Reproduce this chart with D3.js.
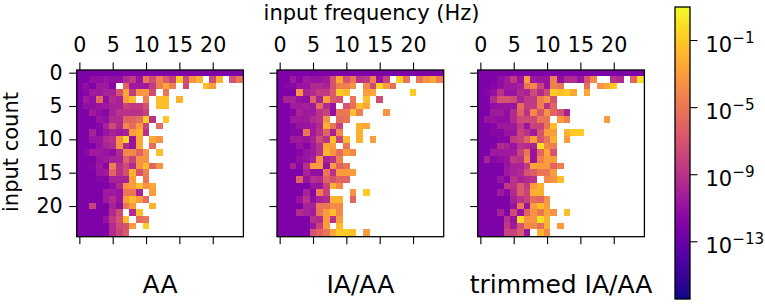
<!DOCTYPE html>
<html>
<head>
<meta charset="utf-8">
<script src="https://cdn.jsdelivr.net/npm/d3@7"></script>
<style>
  body { margin: 0; background: #fff; }
  text { font-family: "DejaVu Sans", sans-serif; fill: #000; }
  .axis .domain { display: none; }
  .axis line { stroke: #000; stroke-width: 1.1; }
</style>
</head>
<body>
<svg id="chart" width="765" height="304"></svg>
<script>
const _ = null;

const panelTitles = ['AA', 'IA/AA', 'trimmed IA/AA'];
const freqTicks = [0, 5, 10, 15, 20];
const countTicks = [0, 5, 10, 15, 20];
const colorTicks = [-1, -5, -9, -13];
const colorRange = [-16.44, 0.97];

// log10 of the cell value, rows are input count, columns input frequency. null = empty
const aaCells = [
  [-12.1,-12.1,-12.1,-12.1,-12.1,-12.1,-12.1,-12.1,-12.1,-12.1,-12.1,-12.1,-12.1,-12.1,-12.1,-12.1,-12.1,-12.1,-12.1,-12.1,-12.1,-12.1,-12.1,-12.1,-12.1],
  [-12.1,-12.1,-11.2,-11.2,-10.8,-11.2,-11.2,-9.5,-8.5,-10.8,-5,-7.5,-4.5,-6.5,-8,-1,-7.5,-3.5,-2,_,-7.5,-2,_,-7,-5],
  [-12.1,-11.2,-12.1,-10.5,-10.5,-11.7,_,-6,-10.5,-10.5,-10.5,-8.5,-4.5,-2.5,-4.5,_,-7.5,_,_,-1.5,-3],
  [-12.1,-11.7,-10.5,-10.5,-10,-10,-7,-2.5,-8.5,-3.5,-3,-7.5,_,-5],
  [-12.1,-10.5,-11.2,-5.5,-11.2,-9.5,-10,-3,-1.5,_,-4.5,_,-1.5,-1.5,_,-2],
  [-12.1,-11.2,-11.2,-10.8,-10.5,-10,-10,-8,-8.5,-8.5,-7,_,-1.5,-1.5],
  [-12.1,-12.1,-10.5,-11.2,-11.7,-10,-9,-9,-9,-9,-8],
  [-12.1,-12.1,-12.1,-10.8,-11.2,-9.5,-9.5,-6,-6,-5.5,-0.8,-9,_,-1.2],
  [-12.1,-12.1,-12.1,-11.7,-10,-7.5,-9.5,-4,-5.5,-3,-8,_,-5.5],
  [-12.1,-12.1,-10,-11.7,-10.8,-10,-10.5,-10,-3,-2,-9],
  [-12.1,-12.1,-10.8,-10.8,-9.5,-9,-3.5,-0.5,-10.8,-2.5,_,-2.5,-3.5],
  [-12.1,-12.1,-12.1,-10.8,-10,-9.5,-3.5,-9.5,-10.8,-2.5,_,-5.5],
  [-12.1,-11.7,-10.5,-10.5,-10.8,-11.2,-9.5,-4,-4,-6,-3.5,_,-1.5],
  [-12.1,-12.1,-12.1,-10.8,-10.5,-10,-10,-6,-8,-3.5,-3.5],
  [-12.1,-12.1,-11.7,-10.5,-11.7,-4.5,-9,-7.5,-9.5,-3.5,-1.5,-6,-3.5],
  [-12.1,-12.1,-12.1,-10.8,-10.5,-6,-9,-7,-2,-7,-4.5],
  [-12.1,-12.1,-12.1,-11.7,-11.7,-10,-10,-10,-3,_,-5],
  [-12.1,-12.1,-12.1,-12.1,-12.1,-11.2,-9.5,-3.5,-3,-1.5,-3.5,-2.5],
  [-12.1,-12.1,-12.1,-12.1,-10.5,-10.5,-10.8,-5,-5,-10,_,-3],
  [-12.1,-12.1,-12.1,-12.1,-10.5,-9.5,-10.8,-3,-1.5,-3,-5.5],
  [-12.1,-12.1,-8,-12.1,-12.1,-10,-11.2,-5,-3,_,_,-2],
  [-12.1,-12.1,-12.1,-12.1,-12.1,-9.5,-7.5,_,-9.5,-1.5],
  [-12.1,-12.1,-12.1,-12.1,-10.8,-8.5,-7,-1.5,_,-5.5,-5],
  [-12.1,-12.1,-12.1,-12.1,-12.1,-9.5,-7.5,-7,-3,_,-1],
  [-12.1,-12.1,-12.1,-12.1,-12.1,-9.5,-8,-6.5]
];

const iaCells = [
  [-12.1,-12.1,-12.1,-12.1,-12.1,-12.1,-12.1,-12.1,-12.1,-12.1,-12.1,-12.1,-12.1,-12.1,-12.1,-12.1,-12.1,-12.1,-12.1,-12.1,-12.1,-12.1,-12.1,-12.1,-12.1],
  [-12.1,-12.1,-10.5,-11.7,-10.5,-10.8,-10.8,-10.5,-7,-2.5,-7,-5,-9,-8.5,-4.5,-10.8,-8,_,-0.8,-5,_,-5,-3.5,-2.5,-4.5],
  [-12.1,-11.7,-11.7,-10.8,-10.8,-9.5,-9.5,-10,-7,-4.5,-4.5,-3.5,_,-4,-7.5,-0.5,-3,-5.5],
  [-12.1,-12.1,-12.1,-3.5,-10,-9.5,-8.5,-8.5,-6.5,-1,-1.5,_,_,-3,-2.5,_,_,_,_,_,-1],
  [-12.1,-10,-10,-10.8,-11.2,-6,-10,-3,-6.5,-7,_,-5,_,-1.5,_,-7.5],
  [-12.1,-12.1,-10.5,-10.5,-10,-10.5,-5.5,-9.5,-10.8,_,-7,-5.5,-1.5,-2.5],
  [-12.1,-12.1,-11.7,-10,-10.5,-10.5,-9,-8,-11.2,-5,-5,-1.5,-4.5,_,_,_,-3.5],
  [-12.1,-12.1,-10.5,-10.5,-10.5,-9.5,-9,-3.5,_,-5.5,-5],
  [-12.1,-12.1,-11.7,-10.8,-10.8,-10.5,-9.5,-2,-5,-8,_,_,-2,-2.5],
  [-12.1,-12.1,-11.7,-11.7,-5,-10.5,-9,-6,-10,-4,_,_,-2],
  [-12.1,-12.1,-10.5,-10.5,-10.8,-10,-7.5,-9,-1.5,-8,-1.5,_,-2,_,-3],
  [-12.1,-12.1,-12.1,-10.8,-11.7,-10.5,-9,-2.5,-3,_,-5],
  [-12.1,-12.1,-12.1,-11.7,-10.8,-10.5,-9,-2,-3.5,-5.5,-3,-4],
  [-12.1,-12.1,-12.1,-11.2,-10.8,-10,-3.5,-10,-9,-4.5],
  [-12.1,-12.1,-10,-11.7,-9,-3,-3,-10.8,-3,-6,-5],
  [-12.1,-12.1,-12.1,-12.1,-10,-11.2,-11.2,-5,-9,-3,-3,-3],
  [-12.1,-12.1,-12.1,-6,-10.8,-9,-9.5,-6,-7,-6,-6],
  [-12.1,-12.1,-12.1,-12.1,-12.1,-10.8,-10.8,-8,-2,-4],
  [-12.1,-12.1,-12.1,-12.1,-10,-11.7,-4.5,-8,_,_,_,-3.5,_,-1],
  [-12.1,-12.1,-12.1,-10.8,-9,-11.2,-10,-9.5,-2,-2,_,-6],
  [-12.1,-12.1,-12.1,-12.1,-10,-10,-5,-5,-4,-4],
  [-12.1,-12.1,-12.1,-9.5,-10,-10.5,-5,-3,-1.5,-4],
  [-12.1,-12.1,-12.1,-12.1,-12.1,-9,-9.5,-3,-9,-3],
  [-12.1,-12.1,-12.1,-12.1,-12.1,-10.8,-8,-3,_,-1.5],
  [-12.1,-12.1,-12.1,-12.1,-12.1,-7,-6,-5,-2.5,-1,-1,-1.5,_,-3]
];

const trimmedCells = [
  [-12.1,-12.1,-12.1,-12.1,-12.1,-12.1,-12.1,-12.1,-12.1,-12.1,-12.1,-12.1,-12.1,-12.1,-12.1,-12.1,-12.1,-12.1,-12.1,-12.1,-12.1,-12.1,-12.1,-12.1,-12.1],
  [-12.1,-12.1,-12.1,-11.2,-10.5,-8.5,-10.8,-3,-10.5,-10.8,-10.8,-4.5,-11.2,-9.5,-9.5,-10.8,-7,-4,_,_,-9,-9.5,_,-6,0],
  [-12.1,-12.1,-11.7,-11.2,-10.5,-10.5,-10,-5,-4,-8,-10.8,-4.5,-5,_,_,_,-5.5,_,-3.5,-2.5,-1],
  [-12.1,-11.7,-11.2,-9,-10.8,-10.8,-9.5,-10,-7.5,-9.5,-7.5,-1,-1.5,-1,-2.5,_,-2.5],
  [-12.1,-12.1,-9.5,-7,-7,-7.5,-10,-8.5,-8.5,-4.5,-3.5,-7],
  [-12.1,-12.1,-11.2,-10.8,-10.8,-10.8,-5.5,-8.5,-8.5,-4.5,-9,-6],
  [-12.1,-12.1,-10.5,-10.5,-11.2,-9.5,-6,-9,-4,-7,-3.5,-6,-7,-10],
  [-12.1,-10.8,-10.8,-11.2,-11.2,-9.5,-7.5,-7.5,-7.5,-5,-5,_,-3,-4.5,_,_,_,_,_,-3],
  [-12.1,-12.1,-11.7,-10.5,-10.5,-10.5,-8.5,-10.8,-8,-8,-5,-1.5],
  [-12.1,-12.1,-11.7,-11.7,-10.8,-10.8,-8,-9,-10.5,-7,-3,-3,_,-2,-1,-1],
  [-12.1,-12.1,-12.1,-11.7,-11.7,-8.5,-8,-6,-3,-7,-5,-2,_,-3],
  [-12.1,-12.1,-11.7,-9.5,-10,-10.8,-9,-9.5,-10,0,-4,-4.5],
  [-12.1,-12.1,-10.5,-10.5,-10.5,-10.5,-8,-5,-10.8,-6,-2.5,-7],
  [-12.1,-10,-11.7,-11.2,-10.8,-8.5,-9,-4,-10.8,-4.5,-3,-3],
  [-12.1,-12.1,-12.1,-12.1,-10.8,-10,-10,-8.5,-2.5,-3,-3,-6,-4.5],
  [-12.1,-12.1,-12.1,-12.1,-10.5,-10,-9.5,-7,-6.5,-5,-5,-3],
  [-12.1,-12.1,-12.1,-10.8,-11.7,-9,-10,-9.5,-9,_,-4,-3.5,-1.5],
  [-12.1,-12.1,-12.1,-12.1,-8.5,-9,-6.5,-8.5,-3,-2],
  [-12.1,-12.1,-12.1,-10.5,-11.7,-9.5,-6.5,-8,-2,-2],
  [-12.1,-12.1,-12.1,-12.1,-12.1,-10,-9,-8,-5.5,-6,-3.5],
  [-12.1,-12.1,-12.1,-12.1,-12.1,-10.8,-5,-10.8,-3,-1.5,-3],
  [-12.1,-12.1,-12.1,-10,-11.7,-7.5,-10.8,-6,-3.5,-5,-2.5,-3.5,_,-1.5],
  [-12.1,-12.1,-12.1,-12.1,-9,-10.8,-0.3,-3.5,-3.5,0,-2],
  [-12.1,-12.1,-12.1,-12.1,-8.5,-10.5,-7,-4,-4,-5.5,-2,_,-3],
  [-12.1,-12.1,-12.1,-12.1,-8,-8,-6.5,-10.8,_,-2,-4]
];

const panelCells = [aaCells, iaCells, trimmedCells];
const panelLeft = [76.7, 277, 477.7];
const panelSize = 166.7;
const panelTop = 70;

const svg = d3.select('#chart');

const color = d3.scaleSequential(d3.interpolatePlasma).domain(colorRange);

panelCells.forEach((cells, i) => {
  const left = panelLeft[i];

  // axes limits are slightly off the cell edges in the original
  const x = d3.scaleLinear().domain([-0.4, 24.6]).range([left, left + panelSize]);
  const y = d3.scaleLinear().domain([-0.4, 24.6]).range([panelTop, panelTop + panelSize]);

  const clipId = 'clip' + i;
  svg.append('clipPath').attr('id', clipId)
    .append('rect')
    .attr('x', left).attr('y', panelTop)
    .attr('width', panelSize).attr('height', panelSize);

  const flat = [];
  cells.forEach((row, r) => row.forEach((v, c) => {
    if (v !== null) flat.push({r: r, c: c, v: v});
  }));

  svg.append('g')
    .attr('clip-path', 'url(#' + clipId + ')')
    .selectAll('rect')
    .data(flat)
    .enter().append('rect')
    .attr('x', d => x(d.c - 0.5))
    .attr('y', d => y(d.r - 0.5))
    .attr('width', x(1) - x(0))
    .attr('height', y(1) - y(0))
    .attr('shape-rendering', 'crispEdges')
    .attr('fill', d => color(d.v));

  svg.append('rect')
    .attr('x', left).attr('y', panelTop)
    .attr('width', panelSize).attr('height', panelSize)
    .attr('fill', 'none')
    .attr('stroke', '#000')
    .attr('stroke-width', 1.3);

  const xTop = svg.append('g')
    .attr('class', 'axis')
    .attr('transform', 'translate(0,' + panelTop + ')')
    .call(d3.axisTop(x).tickValues(freqTicks).tickSize(7.5).tickPadding(10.5).tickFormat(d3.format('d')));
  xTop.selectAll('text').style('font-size', '20.6px');

  svg.append('g')
    .attr('class', 'axis')
    .attr('transform', 'translate(0,' + (panelTop + panelSize) + ')')
    .call(d3.axisBottom(x).tickValues(freqTicks).tickSize(7.5).tickFormat(''));

  const yAxis = svg.append('g')
    .attr('class', 'axis')
    .attr('transform', 'translate(' + left + ',0)')
    .call(d3.axisLeft(y).tickValues(countTicks).tickSize(7.5).tickPadding(6.5)
      .tickFormat(i === 0 ? d3.format('d') : ''));
  yAxis.selectAll('text').style('font-size', '20.6px');

  svg.append('text')
    .attr('x', left + panelSize / 2)
    .attr('y', 293)
    .attr('text-anchor', 'middle')
    .style('font-size', '25px')
    .text(panelTitles[i]);
});

svg.append('text')
  .attr('x', 371.5).attr('y', 20)
  .attr('text-anchor', 'middle')
  .style('font-size', '21px')
  .text('input frequency (Hz)');

svg.append('text')
  .attr('transform', 'translate(17.5,152) rotate(-90)')
  .attr('text-anchor', 'middle')
  .style('font-size', '21px')
  .text('input count');

// colorbar
const barLeft = 675, barWidth = 15, barTop = 7, barBottom = 299;
const barScale = d3.scaleLinear().domain(colorRange).range([barBottom, barTop]);
const barStep = (colorRange[1] - colorRange[0]) / 256;
const barSteps = d3.range(256).map(k => colorRange[0] + barStep * k);

svg.append('g').selectAll('rect')
  .data(barSteps)
  .enter().append('rect')
  .attr('x', barLeft)
  .attr('width', barWidth)
  .attr('y', d => barScale(d + barStep))
  .attr('height', d => barScale(d) - barScale(d + barStep))
  .attr('shape-rendering', 'crispEdges')
  .attr('fill', d => color(d + barStep / 2));

svg.append('rect')
  .attr('x', barLeft).attr('y', barTop)
  .attr('width', barWidth).attr('height', barBottom - barTop)
  .attr('fill', 'none')
  .attr('stroke', '#000')
  .attr('stroke-width', 1.3);

const barAxis = svg.append('g')
  .attr('class', 'axis')
  .attr('transform', 'translate(' + (barLeft + barWidth) + ',0)')
  .call(d3.axisRight(barScale).tickValues(colorTicks).tickSize(7.5).tickPadding(8).tickFormat(''));

barAxis.selectAll('.tick text').each(function(d) {
  const t = d3.select(this).style('font-size', '21px').attr('dy', '0.55em');
  t.append('tspan').text('10');
  t.append('tspan')
    .attr('dy', '-0.62em')
    .style('font-size', '15.2px')
    .text('\u2212' + Math.abs(d));
});
</script>
</body>
</html>
